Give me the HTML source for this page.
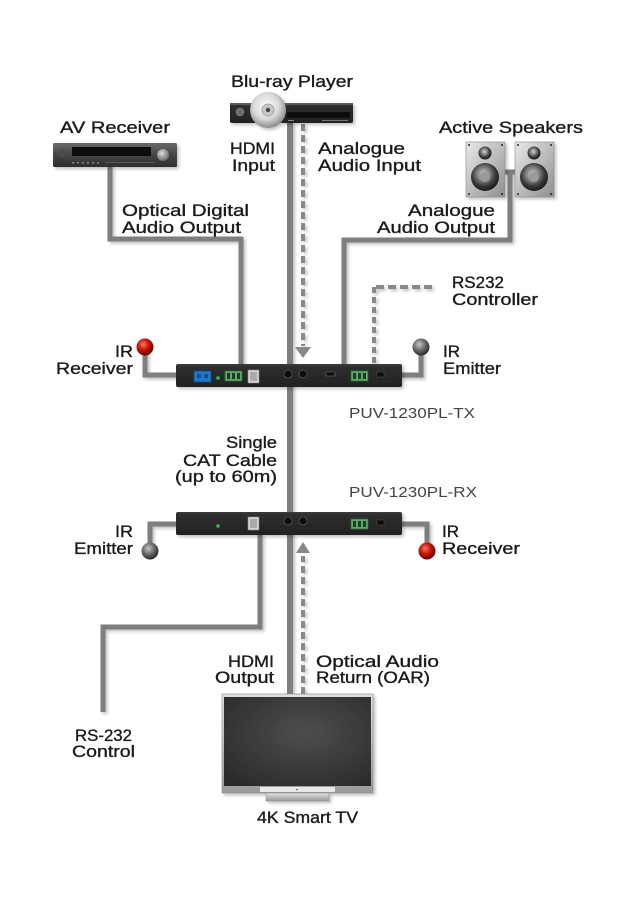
<!DOCTYPE html>
<html><head><meta charset="utf-8">
<style>
html,body{margin:0;padding:0;background:#fff;}
svg{display:block;}
text{font-family:"Liberation Sans",sans-serif;font-size:17px;fill:#1a1a1a;stroke:#1a1a1a;stroke-width:0.35px;}
.m{fill:#444;stroke:none;font-size:15px;}
</style></head>
<body>
<svg width="634" height="900" viewBox="0 0 634 900" xmlns="http://www.w3.org/2000/svg">
<defs>
<filter id="sh" x="-20%" y="-20%" width="140%" height="140%">
<feGaussianBlur in="SourceAlpha" stdDeviation="1.6"/>
<feOffset dx="2" dy="2" result="b"/>
<feComponentTransfer><feFuncA type="linear" slope="0.25"/></feComponentTransfer>
<feMerge><feMergeNode/><feMergeNode in="SourceGraphic"/></feMerge>
</filter>
<radialGradient id="red" cx="40%" cy="35%" r="65%">
<stop offset="0" stop-color="#ff7a66"/><stop offset="0.45" stop-color="#d01a0a"/><stop offset="1" stop-color="#6a0000"/>
</radialGradient>
<radialGradient id="gry" cx="40%" cy="35%" r="65%">
<stop offset="0" stop-color="#c8c8c8"/><stop offset="0.5" stop-color="#707070"/><stop offset="1" stop-color="#2a2a2a"/>
</radialGradient>
<linearGradient id="box" x1="0" y1="0" x2="0" y2="1">
<stop offset="0" stop-color="#3c3c3c"/><stop offset="0.15" stop-color="#2e2e2e"/><stop offset="1" stop-color="#222"/>
</linearGradient>
<linearGradient id="avr" x1="0" y1="0" x2="0" y2="1">
<stop offset="0" stop-color="#6a6a6a"/><stop offset="0.5" stop-color="#454545"/><stop offset="1" stop-color="#2e2e2e"/>
</linearGradient>
<radialGradient id="disc" cx="45%" cy="40%" r="60%">
<stop offset="0" stop-color="#ffffff"/><stop offset="0.6" stop-color="#d8d8d8"/><stop offset="1" stop-color="#8a8a8a"/>
</radialGradient>
<linearGradient id="spk" x1="0" y1="0" x2="1" y2="1">
<stop offset="0" stop-color="#e8e8e8"/><stop offset="0.5" stop-color="#bdbdbd"/><stop offset="1" stop-color="#8e8e8e"/>
</linearGradient>
<radialGradient id="woof" cx="45%" cy="40%" r="60%">
<stop offset="0" stop-color="#d0d0d0"/><stop offset="0.35" stop-color="#8a8a8a"/><stop offset="0.7" stop-color="#3a3a3a"/><stop offset="1" stop-color="#1a1a1a"/>
</radialGradient>
<radialGradient id="scr" cx="55%" cy="40%" r="70%">
<stop offset="0" stop-color="#4e4e4e"/><stop offset="1" stop-color="#2c2c2c"/>
</radialGradient>
<linearGradient id="silver" x1="0" y1="0" x2="0" y2="1">
<stop offset="0" stop-color="#e0e0e0"/><stop offset="1" stop-color="#9a9a9a"/>
</linearGradient>
<radialGradient id="knob" cx="40%" cy="35%" r="65%">
<stop offset="0" stop-color="#dcdcdc"/><stop offset="1" stop-color="#6a6a6a"/>
</radialGradient>
</defs>

<!-- connector lines -->
<g filter="url(#sh)" fill="none" stroke="#7e7e7e" stroke-width="5">
<path d="M290 122 V694" stroke-width="6"/>
<path d="M110 166 V239 H241 V366"/>
<path d="M510 172 V240 H344 V366"/>
<path d="M505 172 H515"/>
<path d="M145 350 V375 H178"/>
<path d="M421 350 V375 H400"/>
<path d="M178 524 H150 V548"/>
<path d="M400 524 H427 V548"/>
<path d="M260 534 V627 H103 V712"/>
</g>
<g filter="url(#sh)" fill="none" stroke="#888" stroke-width="4">
<path d="M303 124 V346" stroke-dasharray="7 4"/>
<path d="M432 287 H374" stroke-dasharray="8 4"/>
<path d="M374 287 V366" stroke-dasharray="6 4"/>
<path d="M303 694 V556" stroke-dasharray="7 4"/>
</g>
<polygon points="295,347 311,347 303,358" fill="#888"/>
<polygon points="296,553 310,553 303,542" fill="#888"/>

<!-- IR balls -->
<circle cx="145" cy="347" r="8.5" fill="url(#red)"/>
<circle cx="421" cy="347" r="8.5" fill="url(#gry)"/>
<circle cx="150" cy="551" r="8.5" fill="url(#gry)"/>
<circle cx="427" cy="551" r="8.5" fill="url(#red)"/>

<!-- Blu-ray player -->
<g filter="url(#sh)">
<rect x="230" y="103" width="123" height="20" rx="2" fill="url(#box)"/>
<rect x="230" y="103" width="123" height="2" fill="#5a5a5a"/>
<circle cx="240" cy="112" r="4" fill="#6a6a6a" stroke="#888" stroke-width="0.6"/>
<rect x="287" y="112" width="63" height="6" fill="#0c0c0c"/>
<rect x="288" y="120" width="6" height="1" fill="#888"/>
<rect x="322" y="120" width="26" height="1" fill="#777"/>
<circle cx="268" cy="110" r="18" fill="url(#disc)"/>
<circle cx="268" cy="110" r="6" fill="#c8c8c8" stroke="#999" stroke-width="0.8"/>
<circle cx="268" cy="110" r="2.2" fill="#444"/>
</g>

<!-- AV receiver -->
<g filter="url(#sh)">
<rect x="53" y="143" width="124" height="24" rx="1.5" fill="url(#avr)"/>
<rect x="72" y="147" width="79" height="9" fill="#0a0a0a"/>
<circle cx="163" cy="155" r="6" fill="url(#knob)"/>
<circle cx="62" cy="153" r="4" fill="#4c4c4c"/>
<g fill="#888"><rect x="72" y="162" width="2" height="1.5"/><rect x="77" y="162" width="2" height="1.5"/><rect x="82" y="162" width="2" height="1.5"/><rect x="87" y="162" width="2" height="1.5"/><rect x="92" y="162" width="2" height="1.5"/><rect x="97" y="162" width="2" height="1.5"/></g>
<rect x="105" y="162" width="50" height="1" fill="#5a5a5a"/>
</g>

<!-- Speakers -->
<g filter="url(#sh)">
<g>
<rect x="466" y="142" width="39" height="55" fill="url(#spk)" stroke="#8a8a8a" stroke-width="0.6"/>
<circle cx="485" cy="153" r="6.5" fill="url(#woof)"/>
<circle cx="485" cy="177" r="14" fill="url(#woof)"/>
<circle cx="485" cy="177" r="5" fill="#9a9a9a"/>
<g fill="#222"><circle cx="469" cy="145" r="1"/><circle cx="502" cy="145" r="1"/><circle cx="469" cy="194" r="1"/><circle cx="502" cy="194" r="1"/></g>
</g>
<g transform="translate(49,0)">
<rect x="466" y="142" width="39" height="55" fill="url(#spk)" stroke="#8a8a8a" stroke-width="0.6"/>
<circle cx="485" cy="153" r="6.5" fill="url(#woof)"/>
<circle cx="485" cy="177" r="14" fill="url(#woof)"/>
<circle cx="485" cy="177" r="5" fill="#9a9a9a"/>
<g fill="#222"><circle cx="469" cy="145" r="1"/><circle cx="502" cy="145" r="1"/><circle cx="469" cy="194" r="1"/><circle cx="502" cy="194" r="1"/></g>
</g>
</g>

<!-- TX box -->
<g filter="url(#sh)">
<rect x="176" y="364" width="226" height="23" rx="2" fill="url(#box)"/>
<rect x="194" y="371" width="17" height="11" fill="#1e78c8" stroke="#0d4a8a" stroke-width="0.8"/>
<rect x="197" y="374" width="4" height="4" fill="#0f4f96"/><rect x="204" y="374" width="4" height="4" fill="#0f4f96"/>
<circle cx="218" cy="378" r="1.8" fill="#2fbf4a"/>
<rect x="225" y="371" width="17" height="10" fill="#5aa86a" stroke="#2f6f3a" stroke-width="0.6"/>
<g fill="#1d3a22"><rect x="227" y="373" width="3" height="6"/><rect x="232" y="373" width="3" height="6"/><rect x="237" y="373" width="3" height="6"/></g>
<rect x="248" y="370" width="11" height="13" fill="#d4d4d4" stroke="#888" stroke-width="0.6"/>
<rect x="250" y="372" width="7" height="9" fill="#aaa"/>
<circle cx="288" cy="374" r="4" fill="#111" stroke="#555" stroke-width="0.8"/>
<circle cx="303" cy="374" r="4" fill="#111" stroke="#555" stroke-width="0.8"/>
<rect x="326" y="372" width="9" height="4" rx="1" fill="#111" stroke="#777" stroke-width="0.6"/>
<rect x="351" y="371" width="17" height="10" fill="#5aa86a" stroke="#2f6f3a" stroke-width="0.6"/>
<g fill="#1d3a22"><rect x="353" y="373" width="3" height="6"/><rect x="358" y="373" width="3" height="6"/><rect x="363" y="373" width="3" height="6"/></g>
<rect x="377" y="372" width="7" height="5" fill="#0a0a0a" stroke="#555" stroke-width="0.5"/>
</g>

<!-- RX box -->
<g filter="url(#sh)">
<rect x="176" y="512" width="226" height="23" rx="2" fill="url(#box)"/>
<circle cx="218" cy="526" r="1.8" fill="#2fbf4a"/>
<rect x="248" y="517" width="11" height="13" fill="#d4d4d4" stroke="#888" stroke-width="0.6"/>
<rect x="250" y="519" width="7" height="9" fill="#aaa"/>
<circle cx="288" cy="521" r="4" fill="#111" stroke="#555" stroke-width="0.8"/>
<circle cx="303" cy="521" r="4" fill="#111" stroke="#555" stroke-width="0.8"/>
<rect x="351" y="519" width="17" height="10" fill="#5aa86a" stroke="#2f6f3a" stroke-width="0.6"/>
<g fill="#1d3a22"><rect x="353" y="521" width="3" height="6"/><rect x="358" y="521" width="3" height="6"/><rect x="363" y="521" width="3" height="6"/></g>
<rect x="377" y="520" width="7" height="5" fill="#0a0a0a" stroke="#555" stroke-width="0.5"/>
</g>

<!-- TV -->
<g filter="url(#sh)">
<rect x="222" y="694" width="151" height="99" fill="url(#silver)" stroke="#8a8a8a" stroke-width="0.6"/>
<rect x="224" y="697" width="147" height="89" fill="url(#scr)"/>
<rect x="260" y="787" width="75" height="5" fill="#e8e8e8"/>
<circle cx="297" cy="789.5" r="0.8" fill="#555"/>
<rect x="266" y="793" width="63" height="8" fill="url(#silver)" stroke="#888" stroke-width="0.5"/>
</g>

<!-- Labels -->
<text x="231" y="87" textLength="122" lengthAdjust="spacingAndGlyphs">Blu-ray Player</text>
<text x="60" y="133" textLength="110" lengthAdjust="spacingAndGlyphs">AV Receiver</text>
<text x="439" y="133" textLength="144" lengthAdjust="spacingAndGlyphs">Active Speakers</text>

<text x="230" y="154" textLength="45" lengthAdjust="spacingAndGlyphs">HDMI</text>
<text x="232" y="171" textLength="43" lengthAdjust="spacingAndGlyphs">Input</text>
<text x="318" y="154" textLength="87" lengthAdjust="spacingAndGlyphs">Analogue</text>
<text x="318" y="171" textLength="103" lengthAdjust="spacingAndGlyphs">Audio Input</text>

<text x="122" y="216" textLength="127" lengthAdjust="spacingAndGlyphs">Optical Digital</text>
<text x="122" y="233" textLength="119" lengthAdjust="spacingAndGlyphs">Audio Output</text>
<text x="408" y="216" textLength="87" lengthAdjust="spacingAndGlyphs">Analogue</text>
<text x="377" y="233" textLength="118" lengthAdjust="spacingAndGlyphs">Audio Output</text>

<text x="452" y="288" textLength="52" lengthAdjust="spacingAndGlyphs">RS232</text>
<text x="452" y="305" textLength="86" lengthAdjust="spacingAndGlyphs">Controller</text>

<text x="115" y="357" textLength="18" lengthAdjust="spacingAndGlyphs">IR</text>
<text x="56" y="374" textLength="77" lengthAdjust="spacingAndGlyphs">Receiver</text>
<text x="443" y="357" textLength="17" lengthAdjust="spacingAndGlyphs">IR</text>
<text x="443" y="374" textLength="58" lengthAdjust="spacingAndGlyphs">Emitter</text>

<text class="m" x="349" y="418" textLength="126" lengthAdjust="spacingAndGlyphs">PUV-1230PL-TX</text>

<text x="226" y="448" textLength="51" lengthAdjust="spacingAndGlyphs">Single</text>
<text x="183" y="466" textLength="94" lengthAdjust="spacingAndGlyphs">CAT Cable</text>
<text x="175" y="482" textLength="102" lengthAdjust="spacingAndGlyphs">(up to 60m)</text>

<text class="m" x="349" y="497" textLength="128" lengthAdjust="spacingAndGlyphs">PUV-1230PL-RX</text>

<text x="115" y="537" textLength="18" lengthAdjust="spacingAndGlyphs">IR</text>
<text x="74" y="554" textLength="59" lengthAdjust="spacingAndGlyphs">Emitter</text>
<text x="442" y="537" textLength="17" lengthAdjust="spacingAndGlyphs">IR</text>
<text x="442" y="554" textLength="78" lengthAdjust="spacingAndGlyphs">Receiver</text>

<text x="228" y="667" textLength="46" lengthAdjust="spacingAndGlyphs">HDMI</text>
<text x="215" y="683" textLength="59" lengthAdjust="spacingAndGlyphs">Output</text>
<text x="316" y="667" textLength="123" lengthAdjust="spacingAndGlyphs">Optical Audio</text>
<text x="316" y="683" textLength="114" lengthAdjust="spacingAndGlyphs">Return (OAR)</text>

<text x="75" y="741" textLength="57" lengthAdjust="spacingAndGlyphs">RS-232</text>
<text x="72" y="757" textLength="63" lengthAdjust="spacingAndGlyphs">Control</text>

<text x="257" y="823" textLength="101" lengthAdjust="spacingAndGlyphs">4K Smart TV</text>
</svg>
</body></html>
